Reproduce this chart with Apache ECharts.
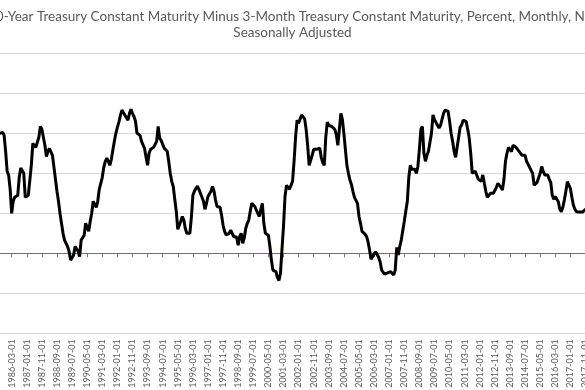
<!DOCTYPE html>
<html>
<head>
<meta charset="utf-8">
<script src="https://cdn.jsdelivr.net/npm/echarts@6/dist/echarts.min.js"></script>
<style>
html,body{margin:0;padding:0;background:#fff;}
#chart{width:585px;height:390px;}
</style>
</head>
<body>
<div id="chart"></div>
<script>
const titleLine1 = '10-Year Treasury Constant Maturity Minus 3-Month Treasury Constant Maturity, Percent, Monthly, Not';
const titleLine2 = 'Seasonally Adjusted';
const firstMonth = '1985-07';
const firstLabel = '1986-03-01';
const labelEvery = 10;
const yTicks = [-2, -1, 0, 1, 2, 3, 4, 5];

const spread = [
  3.0, 3.0, 3.02, 2.95, 2.55, 2.05,
  1.95, 1.6, 1.0, 1.3, 1.4, 1.38, 1.45, 1.9, 2.13, 2.1, 2.0, 1.4,
  1.45, 1.45, 1.45, 2.2, 2.75, 2.7, 2.65, 2.6, 2.9, 3.17, 3.1, 3.05,
  2.7, 2.42, 2.55, 2.62, 2.6, 2.45, 2.15, 1.85, 1.55, 1.3, 1.0, 0.75,
  0.5, 0.33, 0.25, 0.17, 0.05, -0.17, -0.12, -0.05, 0.17, 0.12, 0.05, -0.08,
  0.33, 0.38, 0.45, 0.75, 0.7, 0.55, 0.8, 1.0, 1.3, 1.33, 1.15, 1.3,
  1.6, 1.63, 1.9, 2.15, 2.3, 2.38, 2.3, 2.2, 2.35, 2.58, 2.8, 3.0,
  3.15, 3.28, 3.45, 3.58, 3.55, 3.45, 3.4, 3.33, 3.5, 3.6, 3.5, 3.42,
  3.3, 3.0, 2.96, 2.95, 2.8, 2.75, 2.62, 2.4, 2.2, 2.5, 2.6, 2.63,
  2.65, 2.7, 2.8, 3.17, 2.88, 2.82, 2.8, 2.63, 2.63, 2.55, 2.3, 2.0,
  1.8, 1.67, 1.35, 1.05, 0.6, 0.58, 0.8, 0.92, 0.83, 0.62, 0.5, 0.46,
  0.5, 0.9, 1.45, 1.55, 1.62, 1.68, 1.6, 1.5, 1.45, 1.3, 1.1, 1.25,
  1.42, 1.38, 1.55, 1.67, 1.55, 1.33, 1.17, 1.2, 1.15, 0.95, 0.7, 0.55,
  0.46, 0.48, 0.5, 0.58, 0.55, 0.42, 0.43, 0.4, 0.2, 0.42, 0.5, 0.25,
  0.38, 0.62, 0.75, 0.83, 1.05, 1.25, 1.2, 1.17, 1.17, 1.0, 0.92, 1.1,
  1.25, 0.75, 0.5, 0.55, 0.45, 0.17, -0.17, -0.42, -0.4, -0.46, -0.6, -0.68,
  -0.5, 0.1, 0.67, 1.42, 1.7, 1.72, 1.6, 1.58, 1.8, 2.3, 2.9, 3.33,
  3.25, 3.2, 3.46, 3.46, 3.36, 3.1, 2.7, 2.2, 2.15, 2.45, 2.6, 2.63,
  2.6, 2.58, 2.63, 2.4, 2.27, 2.2, 2.9, 3.28, 3.2, 3.17, 3.17, 3.15,
  3.1, 2.96, 2.7, 3.1, 3.5, 3.35, 3.0, 2.6, 2.2, 2.0, 1.83, 1.72,
  1.55, 1.4, 1.42, 1.25, 0.92, 0.75, 0.55, 0.5, 0.48, 0.42, 0.29, 0.08,
  -0.15, -0.13, -0.02, 0.04, 0.0, -0.1, -0.21, -0.42, -0.44, -0.52, -0.5, -0.49,
  -0.48, -0.46, -0.5, -0.54, -0.42, 0.15, -0.04, 0.17, 0.33, 0.38, 0.8, 0.8,
  1.3, 1.9, 2.2, 2.1, 2.15, 2.1, 2.0, 2.17, 2.6, 3.1, 3.17, 2.5,
  2.3, 2.45, 2.55, 2.6, 3.0, 3.46, 3.35, 3.32, 3.2, 3.13, 3.2, 3.35,
  3.5, 3.58, 3.58, 3.55, 3.3, 3.0, 2.8, 2.55, 2.4, 2.4, 2.9, 3.15,
  3.21, 3.33, 3.3, 3.29, 3.1, 2.88, 2.5, 2.0, 2.0, 2.05, 2.0, 1.85,
  1.9, 1.8, 1.96, 1.75, 1.55, 1.4, 1.4, 1.5, 1.5, 1.5, 1.46, 1.65,
  1.75, 1.73, 1.65, 1.58, 1.85, 2.3, 2.5, 2.65, 2.6, 2.54, 2.7, 2.71,
  2.65, 2.6, 2.55, 2.54, 2.45, 2.42, 2.45, 2.3, 2.33, 2.15, 2.1, 2.0,
  1.7, 1.65, 1.78, 1.8, 2.0, 2.17, 2.05, 1.96, 1.93, 1.96, 1.85, 1.77,
  1.45, 1.35, 1.42, 1.38, 1.29, 1.1, 1.04, 1.15, 1.33, 1.55, 1.79, 1.77,
  1.62, 1.4, 1.2, 1.1, 1.04, 1.0, 1.03, 1.0, 1.03, 1.07, 1.1, 1.1
];

// monthly category labels, one per value
const categories = [];
(function () {
  let y = +firstMonth.slice(0, 4), m = +firstMonth.slice(5, 7);
  for (let i = 0; i < spread.length; i++) {
    categories.push(y + '-' + String(m).padStart(2, '0') + '-01');
    m++; if (m > 12) { m = 1; y++; }
  }
})();
const labelStart = categories.indexOf(firstLabel);
const showEvery = (idx) => idx >= 0 && ((idx - labelStart) % labelEvery + labelEvery) % labelEvery === 0;

const FONT = 'Lato, "Open Sans", "Liberation Sans", sans-serif';
const chart = echarts.init(document.getElementById('chart'), null, { renderer: 'canvas' });
chart.setOption({
  animation: false,
  backgroundColor: '#ffffff',
  title: {
    text: titleLine1 + '\n' + titleLine2,
    left: 'center',
    top: 4,
    textStyle: { fontFamily: FONT, fontSize: 13.5, fontWeight: 'normal', color: '#595959', lineHeight: 15.5 }
  },
  grid: { left: -0.4, top: 53.3, width: 587.4, height: 280, containLabel: false, outerBoundsMode: 'none' },
  xAxis: [
    {
      type: 'category',
      data: categories,
      boundaryGap: false,
      position: 'bottom',
      axisLine: { show: false, onZero: false },
      axisTick: { show: false },
      axisLabel: {
        interval: showEvery,
        rotate: 90,
        margin: 6,
        fontFamily: FONT,
        fontSize: 9,
        color: '#595959'
      },
      splitLine: { show: false }
    },
    {
      type: 'category',
      data: categories,
      boundaryGap: false,
      position: 'bottom',
      axisLine: { show: true, onZero: true, onZeroAxisIndex: 0, lineStyle: { color: '#c0504d', width: 1 } },
      axisTick: { show: true, interval: showEvery, length: 4, inside: false, lineStyle: { color: '#8c6a6a', width: 1 } },
      axisLabel: { show: false },
      splitLine: { show: false }
    }
  ],
  yAxis: {
    type: 'value',
    min: yTicks[0],
    max: yTicks[yTicks.length - 1],
    interval: 1,
    axisLine: { show: false },
    axisTick: { show: false },
    axisLabel: { show: false },
    splitLine: { show: true, lineStyle: { color: '#d9d9d9', width: 1 } }
  },
  series: [{
    type: 'line',
    data: spread,
    xAxisIndex: 0,
    yAxisIndex: 0,
    showSymbol: false,
    symbol: 'none',
    lineStyle: { color: '#000000', width: 3 },
    z: 5
  }]
});
</script>
</body>
</html>
